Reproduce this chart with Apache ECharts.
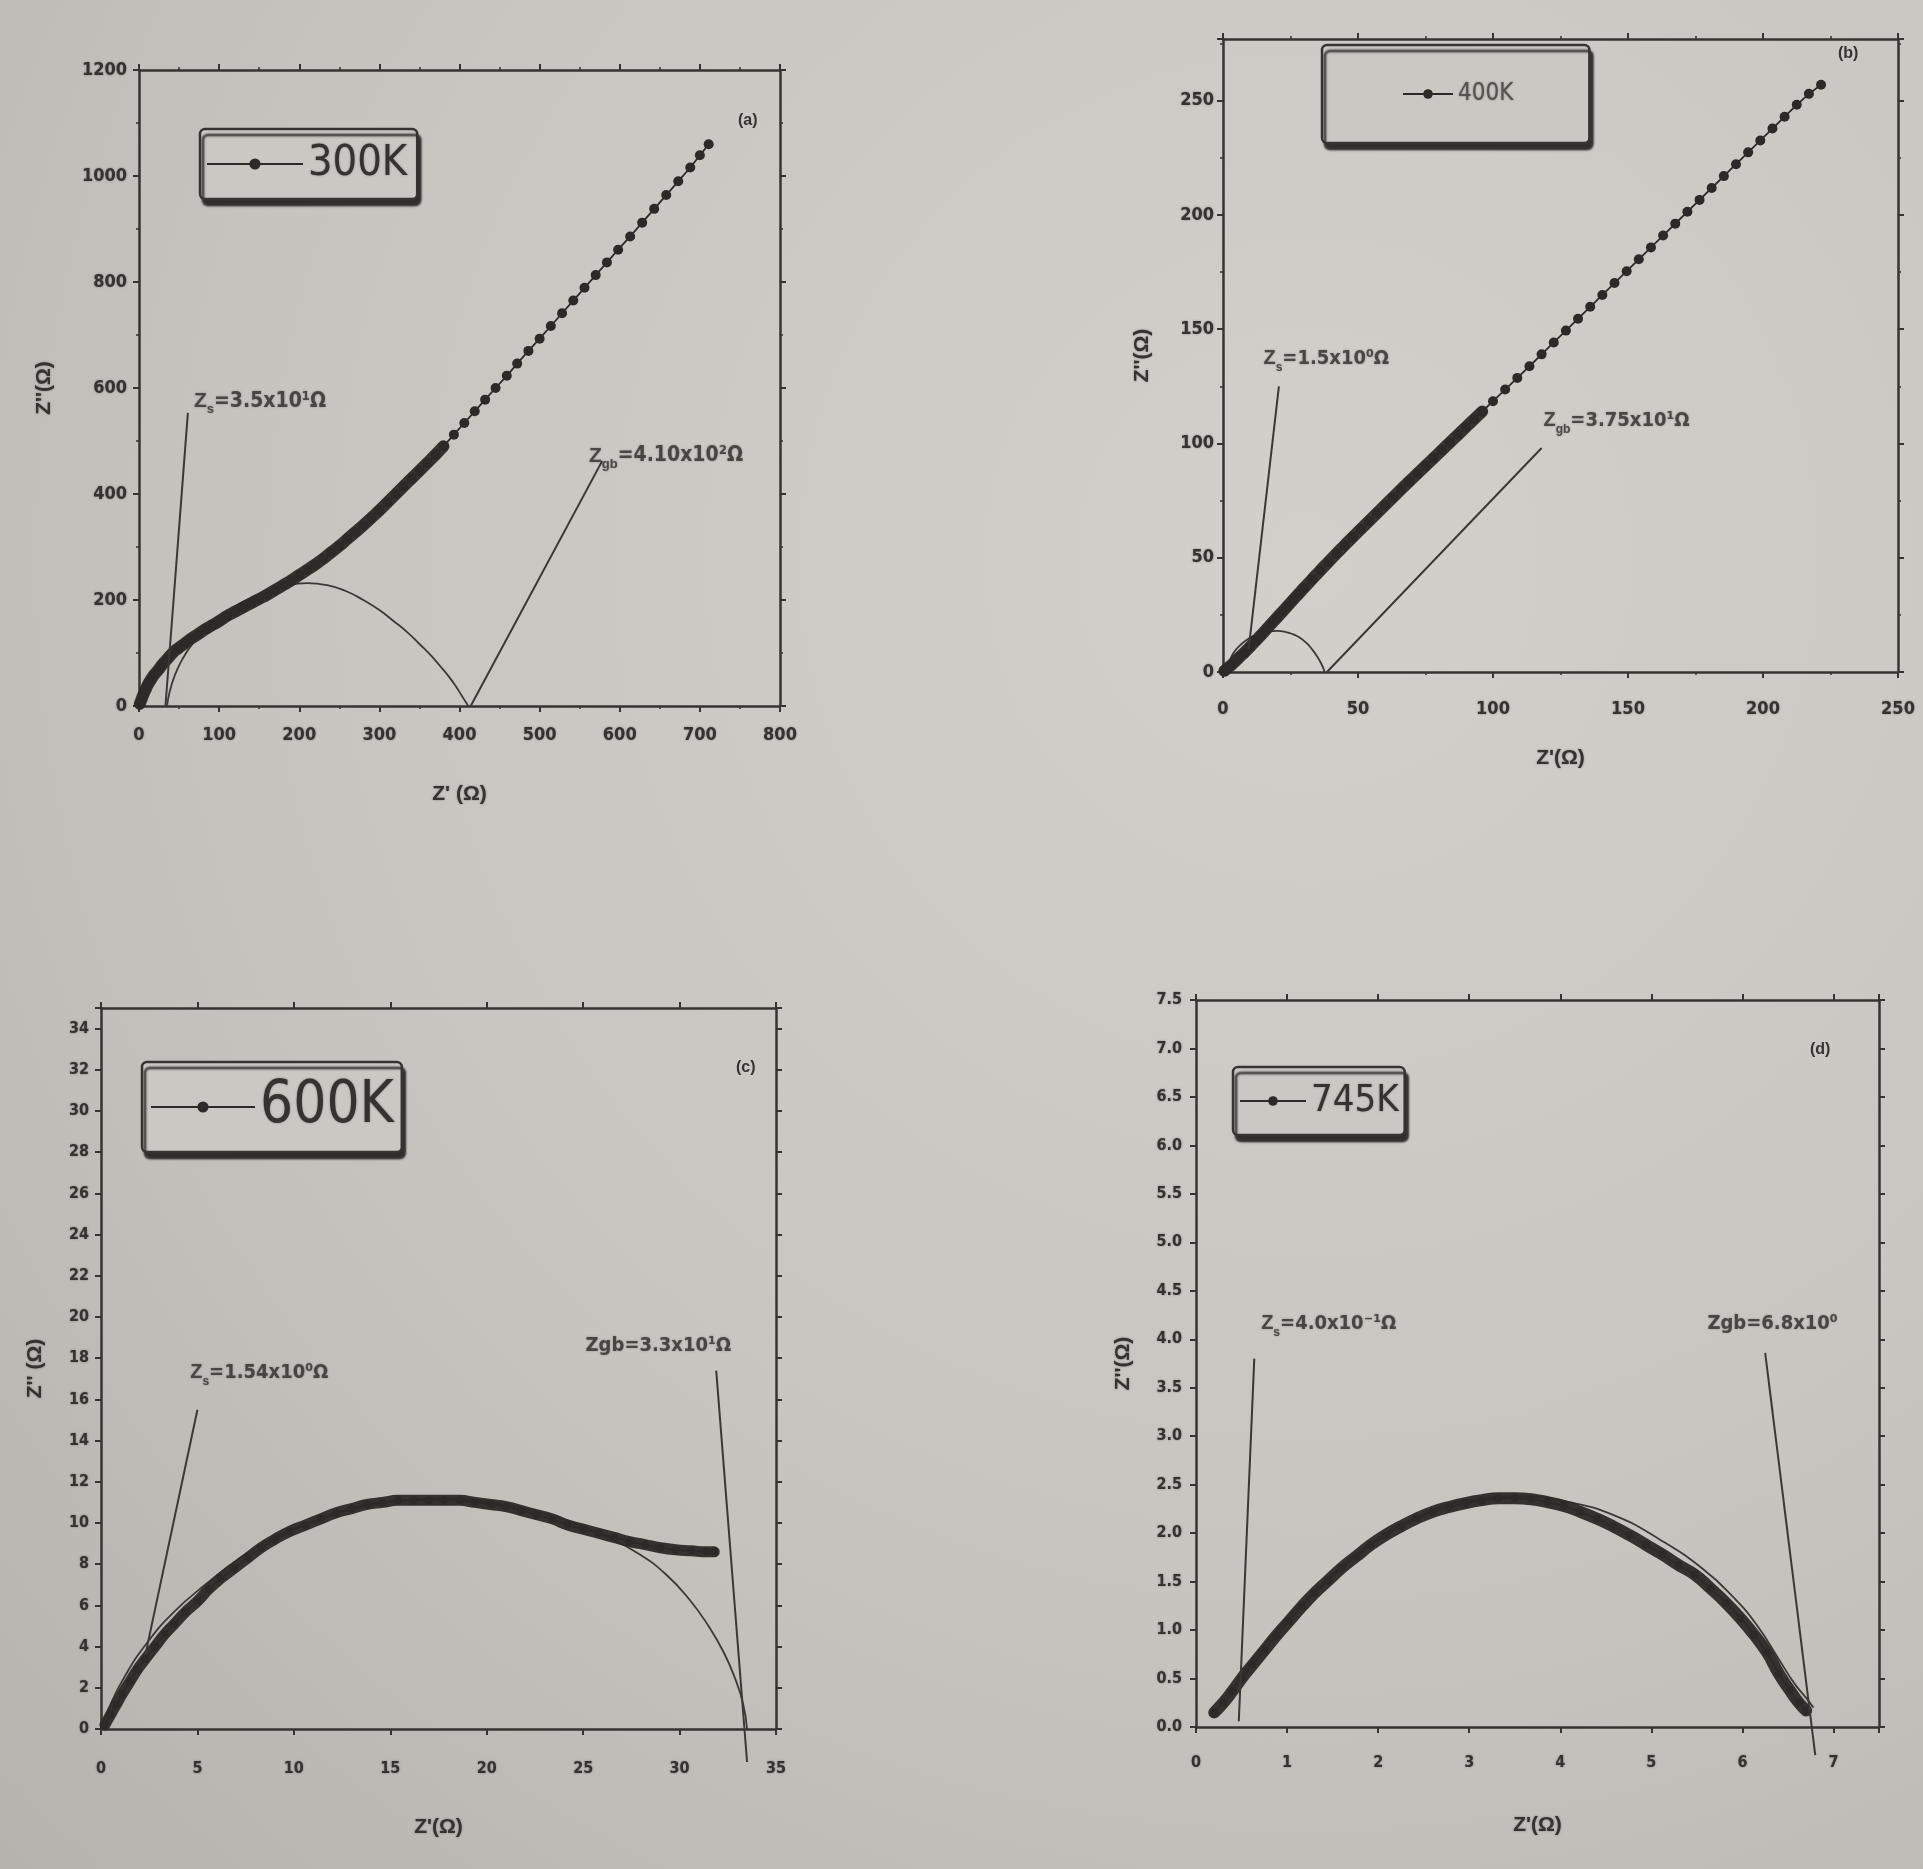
<!DOCTYPE html>
<html><head><meta charset="utf-8">
<script src="https://cdn.jsdelivr.net/npm/echarts@6/dist/echarts.min.js"></script>
<style>
html,body{margin:0;padding:0;}
body{width:1923px;height:1869px;background:radial-gradient(ellipse at 68% 30%, #d3d0cb 0%, #c8c5c0 55%, #b6b3ae 100%);}
#c{width:1923px;height:1869px;}
</style></head><body><div id="c"></div>
<script>
// ---------------- DATA ----------------
const legendNames = ['300K', '400K', '600K', '745K'];
const panelTags = ['(a)', '(b)', '(c)', '(d)'];

const xTicksA = [0, 800, 100], yTicksA = [0, 1200, 200];
const xTicksB = [0, 250, 50],  yTicksB = [0, 277, 50];
const xTicksC = [0, 35, 5],    yTicksC = [0, 35, 2];
const xTicksD = [0, 7.5, 1],   yTicksD = [0, 7.5, 0.5];

// (a) 300K
const a300K_dense = [[1,4],[3,12],[5,20],[8,30],[11,40],[15,50],[19,59],[24,68],[29,78],[35,88],[42,100],[49,109],[57,118],[65,127],[74,136],[83,145],[92,153],[101,161],[110,170],[120,178],[130,186],[140,194],[150,202],[160,210],[170,219],[180,228],[190,237],[200,247],[210,257],[220,267],[230,278],[240,290],[250,302],[260,315],[270,328],[280,341],[290,355],[300,369],[310,384],[320,399],[330,414],[340,429],[350,444],[360,459],[370,474],[380,490]];
const a300K_sparse = [[393,512],[406,534],[419,556],[432,578],[445,600],[459,623],[472,646],[486,670],[500,693],[514,717],[528,741],[542,765],[556,789],[570,813],[584,837],[598,861],[613,886],[628,912],[643,938],[658,964],[673,990],[688,1016],[700,1039],[711,1060]];
const fitA = [[35,0],[38,25],[44,55],[54,88],[68,120],[86,150],[108,176],[132,198],[158,216],[185,228],[210,232],[235,228],[258,217],[280,200],[300,181],[318,160],[335,139],[350,117],[364,96],[376,75],[387,55],[396,36],[403,19],[408,7],[411,0]];
const leaderA_s = [[61,553],[33,0]];
const leaderA_gb = [[578,462],[414,0]];
const noteA = [{at:[68,575], sub:'s', rest:'=3.5x10¹Ω'}, {at:[561,472], sub:'gb', rest:'=4.10x10²Ω'}];

// (b) 400K
const b400K_dense = [[0.5,0.5],[1.5,1.5],[3,3],[4.5,4.6],[6,6.4],[8,8.6],[10,11],[12,13.5],[14,16],[16,18.6],[18,21.2],[20,23.8],[22,26.4],[24,29],[26,31.6],[28,34.2],[30,36.8],[33,40.6],[36,44.4],[39,48.1],[42,51.8],[45,55.4],[48,59],[51,62.5],[54,66],[57,69.5],[60,73],[63,76.5],[66,80],[69,83.4],[72,86.8],[75,90.2],[78,93.6],[81,97],[84,100.4],[87,103.8],[90,107.2],[93,110.6],[96,114]];
const b400K_sparse = [[100,118.5],[104.5,123.6],[109,128.7],[113.5,133.8],[118,139],[122.5,144.2],[127,149.4],[131.5,154.6],[136,159.8],[140.5,165],[145,170.2],[149.5,175.4],[154,180.6],[158.5,185.8],[163,191],[167.5,196.2],[172,201.4],[176.5,206.6],[181,211.8],[185.5,217],[190,222.2],[194.5,227.4],[199,232.6],[203.5,237.8],[208,243],[212.5,248.2],[217,253],[221.5,257]];
const fitB = [[1.5,0],[2.5,5],[4,8.5],[6,11.3],[8.5,13.8],[11,15.6],[14,17],[17,17.8],[20,18],[23,17.6],[26,16.5],[28.5,15],[31,12.6],[33.2,9.6],[35,6.6],[36.4,3.6],[37.3,1.2],[37.6,0]];
const leaderB_s = [[20.7,125],[9.5,10]];
const leaderB_gb = [[118,98],[38.5,0]];
const noteB = [{at:[14.8,137], sub:'s', rest:'=1.5x10⁰Ω'}, {at:[118.5,110], sub:'gb', rest:'=3.75x10¹Ω'}];

// (c) 600K
const c600K = [[0.2,0.2],[0.5,0.7],[0.8,1.2],[1.1,1.7],[1.5,2.3],[1.9,2.9],[2.3,3.4],[2.8,4.0],[3.3,4.6],[3.8,5.1],[4.4,5.7],[5.0,6.2],[5.6,6.8],[6.2,7.3],[6.9,7.8],[7.6,8.3],[8.3,8.8],[9.0,9.2],[9.8,9.6],[10.6,9.9],[11.4,10.2],[12.2,10.5],[13.0,10.7],[13.8,10.9],[14.6,11.0],[15.4,11.1],[16.2,11.1],[17.0,11.1],[17.8,11.1],[18.6,11.1],[19.4,11.0],[20.2,10.9],[21.0,10.8],[21.8,10.6],[22.6,10.4],[23.4,10.2],[24.2,9.9],[25.0,9.7],[25.8,9.5],[26.6,9.3],[27.4,9.1],[28.2,8.95],[29.0,8.8],[29.8,8.7],[30.6,8.65],[31.4,8.6],[31.8,8.6]];
const fitC = [[0,0],[0.4,1.0],[1.2,2.5],[2.4,4.2],[3.8,5.7],[5.4,7.0],[7.2,8.3],[9.2,9.4],[11.4,10.2],[13.6,10.8],[15.8,11.1],[18,11.2],[20.2,11.0],[22.4,10.6],[24.5,10],[26.3,9.3],[27.9,8.5],[29.3,7.5],[30.5,6.3],[31.5,5],[32.3,3.7],[32.9,2.4],[33.3,1.2],[33.5,0]];
const leaderC_s = [[5.0,15.5],[2.3,3.6]];
const leaderC_gb = [[31.9,17.4],[33.5,-1.6]];
const noteC = [{at:[4.6,17.3], sub:'s', rest:'=1.54x10⁰Ω'}, {at:[25.1,18.6], sub:'', rest:'Zgb=3.3x10¹Ω'}];

// (d) 745K
const d745K = [[0.20,0.15],[0.30,0.25],[0.40,0.37],[0.50,0.50],[0.62,0.64],[0.75,0.79],[0.88,0.94],[1.02,1.09],[1.16,1.24],[1.30,1.38],[1.45,1.51],[1.60,1.64],[1.76,1.76],[1.92,1.88],[2.08,1.98],[2.25,2.07],[2.42,2.15],[2.60,2.22],[2.78,2.27],[2.96,2.31],[3.14,2.34],[3.32,2.36],[3.50,2.36],[3.68,2.35],[3.86,2.32],[4.04,2.28],[4.22,2.22],[4.40,2.15],[4.58,2.07],[4.76,1.98],[4.94,1.88],[5.12,1.78],[5.30,1.67],[5.48,1.57],[5.65,1.43],[5.82,1.28],[5.98,1.12],[6.13,0.95],[6.27,0.77],[6.40,0.55],[6.52,0.38],[6.62,0.25],[6.70,0.17]];
const fitD = [[0.4,0.4],[0.8,0.9],[1.3,1.4],[1.9,1.88],[2.5,2.2],[3.1,2.35],[3.6,2.38],[4.1,2.32],[4.6,2.18],[5.1,1.93],[5.58,1.62],[5.9,1.34],[6.16,1.05],[6.4,0.7],[6.57,0.45],[6.7,0.3],[6.78,0.2]];
const leaderD_s = [[0.64,3.8],[0.47,0.06]];
const leaderD_gb = [[6.25,3.86],[6.8,-0.29]];
const noteD = [{at:[0.71,4.16], sub:'s', rest:'=4.0x10⁻¹Ω'}, {at:[5.61,4.16], sub:'', rest:'Zgb=6.8x10⁰'}];

// ---------------- STYLE / LAYOUT ----------------
const INK = '#2c2a28', AX = '#363431', TXT = '#353330', LEG_BG = '#cbc8c3';
const FF = '"Liberation Sans", Arial, sans-serif';
const NARROW = '"Liberation Sans Narrow","DejaVu Sans Condensed","Arial Narrow","Liberation Sans",sans-serif';
const blur = {textShadowColor: 'rgba(45,43,40,0.5)', textShadowBlur: 2};

const P = [
  {grid:{left:139,top:70,width:641,height:636}, xt:xTicksA, yt:yTicksA, xName:"Z' (Ω)", yName:"Z''(Ω)",
   xGap:78, yGap:84, xMargin:20, yMargin:12, tick:18, dec:0, minor:true, sym:10,
   dense:a300K_dense, sparse:a300K_sparse, fit:fitA, leaders:[leaderA_s, leaderA_gb], notes:noteA, band:12, noteSize:21,
   legend:{left:200, top:129, padding:[9,10,9,6], itemWidth:96, itemHeight:14, fontSize:43, lineHeight:52},
   tag:{left:738, top:113}},
  {grid:{left:1223,top:39,width:675,height:633}, xt:xTicksB, yt:yTicksB, xName:"Z'(Ω)", yName:"Z''(Ω)",
   xGap:76, yGap:70, xMargin:28, yMargin:9, tick:18, dec:0, minor:true, sym:10,
   dense:b400K_dense, sparse:b400K_sparse, fit:fitB, leaders:[leaderB_s, leaderB_gb], notes:noteB, band:12, noteSize:20,
   legend:{left:1322, top:45, padding:[35,76,35,80], itemWidth:50, itemHeight:12, fontSize:24, lineHeight:28, faint:true},
   tag:{left:1838, top:46}},
  {grid:{left:101,top:1008,width:675,height:721}, xt:xTicksC, yt:yTicksC, xName:"Z'(Ω)", yName:"Z'' (Ω)",
   xGap:88, yGap:55, xMargin:32, yMargin:12, tick:16, dec:0, minor:false, sym:8,
   dense:c600K, sparse:[], fit:fitC, leaders:[leaderC_s, leaderC_gb], notes:noteC, band:11, noteSize:20,
   legend:{left:142, top:1062, padding:[13,8,13,8], itemWidth:104, itemHeight:14, fontSize:58, lineHeight:64},
   tag:{left:736, top:1060}},
  {grid:{left:1196,top:1000,width:683,height:727}, xt:xTicksD, yt:yTicksD, xName:"Z'(Ω)", yName:"Z''(Ω)",
   xGap:88, yGap:62, xMargin:28, yMargin:14, tick:16, dec:1, minor:false, sym:8,
   dense:d745K, sparse:[], fit:fitD, leaders:[leaderD_s, leaderD_gb], notes:noteD, band:12, noteSize:20,
   legend:{left:1233, top:1067, padding:[12,6,12,6], itemWidth:66, itemHeight:12, fontSize:38, lineHeight:44},
   tag:{left:1810, top:1042}}
];

function mkFmt(step, dec) {
  return function (v) {
    const k = v / step;
    if (Math.abs(k - Math.round(k)) > 1e-6) return '';
    return dec ? v.toFixed(dec) : String(Math.round(v));
  };
}

const grids = [], xAxes = [], yAxes = [], series = [], legends = [], graphics = [];
P.forEach(function (p, i) {
  grids.push(Object.assign({show:false}, p.grid));
  const lineSt = {show:true, onZero:false, lineStyle:{color:AX, width:2.5}};
  const tickSt = {show:true, inside:false, length:6, lineStyle:{color:AX, width:2}};
  const minorSt = {show:p.minor, splitNumber:2, length:3, lineStyle:{color:AX, width:1.5}};
  const lab = {fontSize:p.tick, fontWeight:'bold', color:TXT, fontFamily:NARROW};
  const nameSt = Object.assign({fontSize:21, fontWeight:'bold', color:TXT, fontFamily:FF}, blur);
  xAxes.push({type:'value', gridIndex:i, position:'bottom', min:p.xt[0], max:p.xt[1], interval:p.xt[2],
    name:p.xName, nameLocation:'middle', nameGap:p.xGap, nameTextStyle:nameSt,
    axisLine:lineSt, axisTick:tickSt, minorTick:minorSt, splitLine:{show:false},
    axisLabel:Object.assign({margin:p.xMargin, formatter:mkFmt(p.xt[2], 0)}, lab, blur)});
  xAxes.push({type:'value', gridIndex:i, position:'top', min:p.xt[0], max:p.xt[1], interval:p.xt[2],
    axisLine:lineSt, axisTick:tickSt, minorTick:minorSt, splitLine:{show:false}, axisLabel:{show:false}});
  yAxes.push({type:'value', gridIndex:i, position:'left', min:p.yt[0], max:p.yt[1], interval:p.yt[2],
    name:p.yName, nameLocation:'middle', nameGap:p.yGap, nameTextStyle:nameSt,
    axisLine:lineSt, axisTick:tickSt, minorTick:minorSt, splitLine:{show:false},
    axisLabel:Object.assign({margin:p.yMargin, formatter:mkFmt(p.yt[2], p.dec)}, lab, blur)});
  yAxes.push({type:'value', gridIndex:i, position:'right', min:p.yt[0], max:p.yt[1], interval:p.yt[2],
    axisLine:lineSt, axisTick:tickSt, minorTick:minorSt, splitLine:{show:false}, axisLabel:{show:false}});

  const xi = 2 * i, yi = 2 * i;
  series.push({type:'line', name:'fit' + i, xAxisIndex:xi, yAxisIndex:yi, data:p.fit, smooth:true,
    symbol:'none', silent:true, lineStyle:{color:'#3b3936', width:1.8}, z:2});
  series.push({type:'line', name:'band' + i, xAxisIndex:xi, yAxisIndex:yi, data:p.dense, smooth:true,
    symbol:'none', silent:true, lineStyle:{color:INK, width:p.band, cap:'round', join:'round', opacity:0.95}, z:3});
  series.push({type:'line', name:legendNames[i], xAxisIndex:xi, yAxisIndex:yi, data:p.dense.concat(p.sparse),
    symbol:'circle', symbolSize:p.sym, showAllSymbol:true, silent:true,
    lineStyle:{color:INK, width:1.8}, itemStyle:{color:INK}, z:4});
  p.leaders.forEach(function (ld, k) {
    series.push({type:'line', name:'lead' + i + '_' + k, xAxisIndex:xi, yAxisIndex:yi, data:ld, clip:false,
      symbol:'none', silent:true, lineStyle:{color:'#3a3835', width:2}, z:5});
  });
  series.push({type:'scatter', name:'note' + i, xAxisIndex:xi, yAxisIndex:yi, clip:false, silent:true,
    symbolSize:1, itemStyle:{color:'rgba(0,0,0,0)'},
    data:p.notes.map(function (n) { return {value:n.at, sub:n.sub, rest:n.rest}; }),
    label:{show:true, position:'right', distance:0, color:TXT, fontFamily:FF, fontWeight:'bold',
      textShadowColor:'rgba(45,43,40,0.5)', textShadowBlur:2,
      formatter:function (prm) {
        const d = prm.data;
        return d.sub ? '{z|Z}{s|' + d.sub + '}{t|' + d.rest + '}' : '{t|' + d.rest + '}';
      },
      rich:{
        z:{fontSize:p.noteSize, fontWeight:'bold', lineHeight:30, verticalAlign:'middle', color:TXT, fontFamily:FF},
        s:{fontSize:Math.round(p.noteSize*0.6), fontWeight:'bold', lineHeight:30, verticalAlign:'bottom', color:TXT, fontFamily:FF},
        t:{fontSize:p.noteSize, fontWeight:'bold', lineHeight:30, verticalAlign:'middle', color:TXT, fontFamily:NARROW}
      }}, z:6});

  const L = p.legend;
  legends.push({data:[legendNames[i]], left:L.left, top:L.top, orient:'horizontal', selectedMode:false,
    padding:L.padding, itemWidth:L.itemWidth, itemHeight:L.itemHeight, itemGap:0,
    backgroundColor:LEG_BG, borderColor:AX, borderWidth:2.5, borderRadius:5,
    shadowColor:'rgba(40,38,36,0.95)', shadowOffsetX:3, shadowOffsetY:6, shadowBlur:2,
    textStyle:{fontSize:L.fontSize, lineHeight:L.lineHeight, fontFamily:NARROW,
      color:L.faint ? '#55534f' : TXT, textShadowColor:'rgba(45,43,40,0.5)', textShadowBlur:2}});

  graphics.push({type:'text', left:p.tag.left, top:p.tag.top, silent:true,
    style:{text:panelTags[i], fontSize:16, fontWeight:'bold', fill:TXT, font:'bold 16px ' + FF}});
});

const chart = echarts.init(document.getElementById('c'), null, {renderer:'canvas'});
chart.setOption({
  animation:false,
  backgroundColor:'transparent',
  grid:grids, xAxis:xAxes, yAxis:yAxes, series:series, legend:legends, graphic:graphics
});
</script>
</body></html>
